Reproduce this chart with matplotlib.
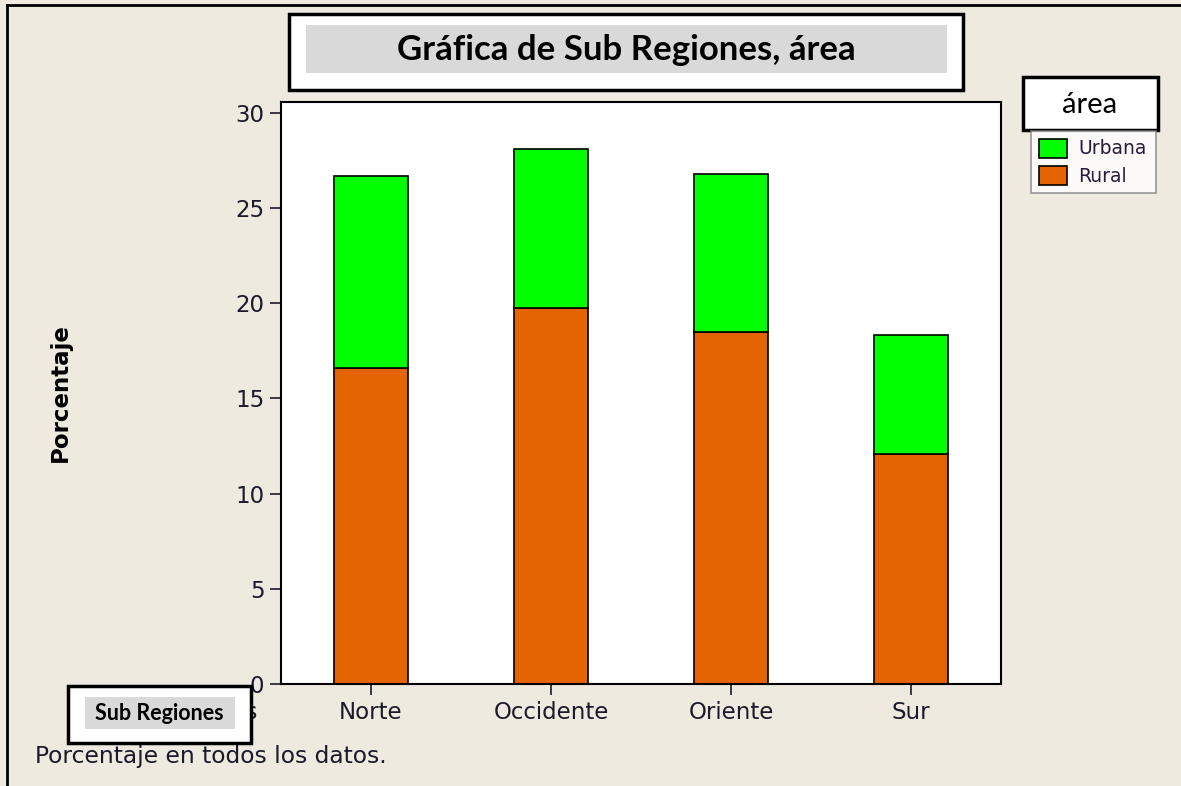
import numpy as np
import matplotlib
matplotlib.use("Agg")
from matplotlib import pyplot as plt
from matplotlib.patches import Rectangle
from matplotlib.lines import Line2D

# data
regiones = ["Norte", "Occidente", "Oriente", "Sur"]
rural = [16.60, 19.75, 18.47, 12.06]
urbana = [10.09, 8.37, 8.34, 6.28]
yticks = [0, 5, 10, 15, 20, 25, 30]

W, H = 1181, 786
bg = "#EEEAE0"
orange = "#E36400"
green = "#00FF00"

fig = plt.figure(figsize=(W / 100, H / 100), dpi=100, facecolor=bg)


def px(x, y):
    # pixel position (top-left origin) -> figure fraction
    return x / W, 1 - y / H


def box(x0, y0, x1, y1, **kw):
    r = Rectangle((x0 / W, 1 - y1 / H), (x1 - x0) / W, (y1 - y0) / H,
                  transform=fig.transFigure, figure=fig, **kw)
    fig.patches.append(r)
    return r


# plot area
ax = fig.add_axes([281 / W, (H - 684) / H, 720 / W, 582 / H])
ax.set_facecolor("white")
x = np.arange(len(regiones))
b_rur = ax.bar(x, rural, width=0.41, color=orange, edgecolor="black", linewidth=1.2, label="Rural")
b_urb = ax.bar(x, urbana, width=0.41, bottom=rural, color=green, edgecolor="black", linewidth=1.2, label="Urbana")
ax.set_xlim(-0.5, 3.5)
ax.set_ylim(0, 30.57)
ax.set_yticks(yticks)
ax.set_xticks(x)
ax.set_xticklabels(regiones)
ax.tick_params(direction="out", length=8, width=1.2, labelsize=16.5, pad=4, colors="#1a1a2a")
for s in ax.spines.values():
    s.set_linewidth(1.5)
    s.set_color("black")

# outer frame lines (top and left only visible)
fig.add_artist(Line2D([7 / W, 7 / W], [0, 1 - 5 / H], transform=fig.transFigure, color="black", lw=2))
fig.add_artist(Line2D([7 / W, 1], [1 - 5 / H, 1 - 5 / H], transform=fig.transFigure, color="black", lw=2))

# title box
box(289, 14, 963, 90, facecolor="white", edgecolor="black", linewidth=2.5)
box(306, 25, 947, 73, facecolor="#D9D9D9", edgecolor="none")
fig.text(*px(626, 50), "Gráfica de Sub Regiones, área", ha="center", va="center",
         fontsize=25, fontweight="bold", family="Lato")

# y label
fig.text(*px(60, 393), "Porcentaje", rotation=90, ha="center", va="center",
         fontsize=16.5, fontweight="bold")

# x label (mostly covered by the box, only its last letter shows)
xl = fig.text(*px(257, 713), "Sub Regiones", ha="right", va="center", fontsize=16.5, color="#1a1a2a")
clip = Rectangle((251 / W, 0), 20 / W, 1, transform=fig.transFigure, visible=False)
fig.patches.append(clip)
xl.set_clip_path(clip)
box(68, 686, 251, 743, facecolor="white", edgecolor="black", linewidth=2.5, zorder=5)
box(85, 697, 235, 729, facecolor="#D9D9D9", edgecolor="none", zorder=6)
fig.text(*px(159, 714), "Sub Regiones", ha="center", va="center",
         fontsize=15.5, fontweight="bold", family="Lato", zorder=7)

# footnote
fig.text(*px(35, 756), "Porcentaje en todos los datos.", ha="left", va="center",
         fontsize=16.8, color="#1a1a2a")

# legend
box(1023, 77, 1158, 130, facecolor="white", edgecolor="black", linewidth=2.5)
fig.text(*px(1090, 105), "área", ha="center", va="center", fontsize=21, family="Lato")
leg = fig.legend(handles=[b_urb, b_rur], labels=["Urbana", "Rural"], loc="upper left",
                 bbox_to_anchor=(1031 / W, 1 - 195 / H, 125 / W, 64 / H), mode="expand",
                 borderaxespad=0, frameon=True, fancybox=False, fontsize=13.5,
                 handlelength=1.5, handleheight=1.2, handletextpad=0.6,
                 labelspacing=0.4, borderpad=0.4)
leg.get_frame().set_edgecolor("#808080")
leg.get_frame().set_linewidth(1.2)
for t in leg.get_texts():
    t.set_color("#2a1a3a")

fig.savefig("out.png", dpi=100, facecolor=bg)
